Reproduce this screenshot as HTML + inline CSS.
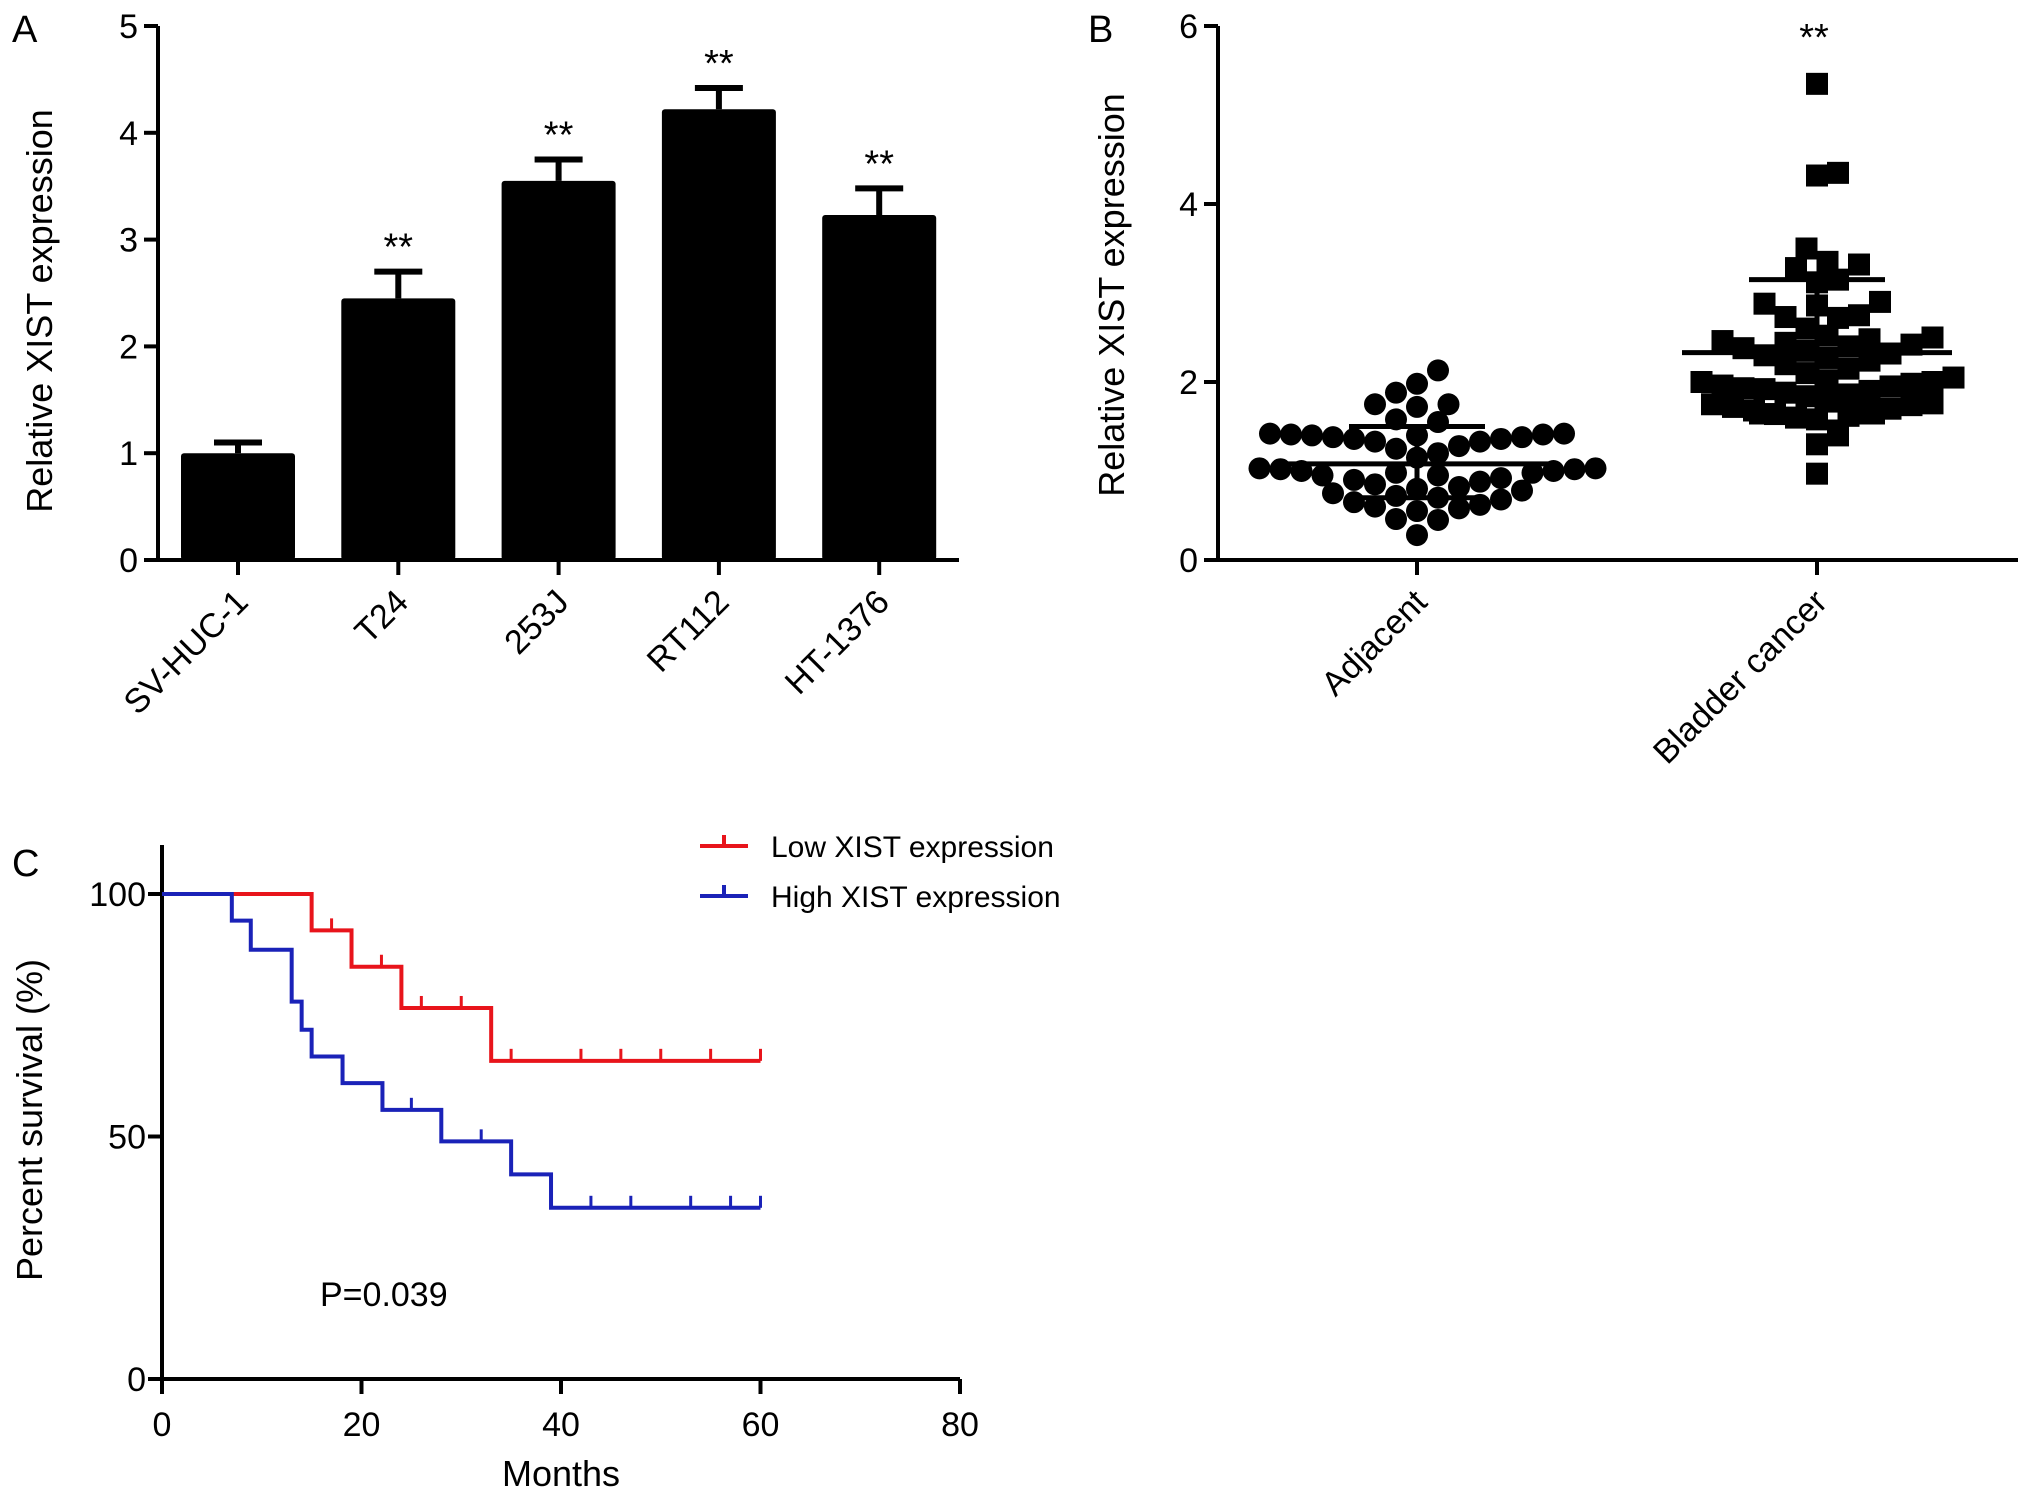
<!DOCTYPE html>
<html><head><meta charset="utf-8"><style>
html,body{margin:0;padding:0;background:#fff}
svg{display:block;font-family:"Liberation Sans",Arial,sans-serif}
</style></head><body>
<svg id="fig" width="2031" height="1498" viewBox="0 0 2031 1498" xmlns="http://www.w3.org/2000/svg"></svg>
<script>
// ---- Panel A data ----
const catsA = ["SV-HUC-1","T24","253J","RT112","HT-1376"];
const meansA = [1.0, 2.45, 3.55, 4.22, 3.23];
const errA = [0.1, 0.25, 0.2, 0.2, 0.25];
const starsA = ["","**","**","**","**"];
const ticksA = [0,1,2,3,4,5];
// ---- Panel B data ----
const groupsB = ["Adjacent","Bladder cancer"];
const adjVals = [2.13,1.98,1.88,1.75,1.75,1.72,1.58,1.55,
  1.42,1.42,1.41,1.41,1.4,1.4,1.38,1.38,1.36,1.36,1.33,1.33,1.28,1.25,1.2,1.15,
  1.03,1.03,1.02,1.02,1.0,1.0,0.98,0.98,0.95,0.95,0.92,0.9,0.88,0.85,0.82,0.8,0.78,0.75,0.72,0.7,0.68,0.65,0.62,0.6,
  0.58,0.55,0.46,0.45,0.28];
const adjStats = [1.08, 0.7, 1.5];
const bcVals = [5.35,4.35,4.32,3.5,3.35,3.32,3.28,3.15,3.12,2.9,2.88,2.86,2.75,2.73,2.72,2.6,
  2.52,2.5,2.48,2.46,2.44,2.42,2.4,2.38,2.35,2.32,2.3,2.27,2.24,2.2,2.15,
  2.1,2.05,2.02,2.0,2.0,1.98,1.96,1.95,1.93,1.92,1.9,1.88,1.86,1.84,
  1.78,1.76,1.75,1.74,1.72,1.7,1.68,1.66,1.64,1.62,1.6,1.58,
  1.4,1.3,0.97];
const bcStats = [2.33, 1.55, 3.15];
const ticksB = [0,2,4,6];
// ---- Panel C data ----
const lowSteps = [[0,100],[15,92.5],[19,85],[24,76.5],[33,65.6],[60,65.6]];
const lowCens = [17,22,26,30,35,42,46,50,55,60];
const highSteps = [[0,100],[7,94.5],[8.9,88.5],[13,77.8],[14,72],[15,66.5],[18.1,61],[22.1,55.5],[28,49],[35,42.2],[39,35.3],[60,35.3]];
const highCens = [25,32,43,47,53,57,60];
const ticksCx = [0,20,40,60,80];
const ticksCy = [0,50,100];

const NS="http://www.w3.org/2000/svg";
const svg=document.getElementById('fig');
function mk(tag,attrs,parent,text){const e=document.createElementNS(NS,tag);for(const k in attrs)e.setAttribute(k,attrs[k]);if(text!==undefined)e.textContent=text;(parent||svg).appendChild(e);return e;}
const FT=34, FA=36;

// ===== Panel A =====
const gA=mk('g',{});


const ax0=158, ay0=560, ay5=26, axEnd=959;
const yA=v=>ay0-(ay0-ay5)*v/5;
const xA=i=>238+i*160.3;
let t=mk('text',{x:12,y:42,'font-size':38},gA,'A');


catsA.forEach((c,i)=>{
  const cx=xA(i), w=114;
  const b=mk('rect',{x:cx-w/2,y:yA(meansA[i]),width:w,height:yA(0)-yA(meansA[i]),fill:'#000',rx:3},gA);
  
  
  const top=yA(meansA[i]+errA[i]);
  const eb=mk('path',{d:`M${cx} ${yA(meansA[i])}V${top}M${cx-24} ${top}H${cx+24}`,stroke:'#000','stroke-width':6,fill:'none'},gA);
  
  
  if(starsA[i]){const s=mk('text',{x:cx,y:top-12,'font-size':38,'text-anchor':'middle'},gA,starsA[i]);
    
    }
  mk('line',{x1:cx,y1:ay0,x2:cx,y2:ay0+15,stroke:'#000','stroke-width':4},gA);
  const l=mk('text',{x:0,y:0,'font-size':FT,'text-anchor':'end',transform:`translate(${cx+12},${ay0+44}) rotate(-45)`},gA,c);
  
  
});
mk('path',{d:`M${ax0} ${ay5}V${ay0}H${axEnd}`,stroke:'#000','stroke-width':4,fill:'none'},gA);
ticksA.forEach(v=>{mk('line',{x1:ax0-14,y1:yA(v),x2:ax0,y2:yA(v),stroke:'#000','stroke-width':4},gA);
  const tl=mk('text',{x:ax0-20,y:yA(v)+12,'font-size':FT,'text-anchor':'end'},gA,v);
  
  });
t=mk('text',{x:0,y:0,'font-size':FA,'text-anchor':'middle',transform:'translate(52,311) rotate(-90)'},gA,'Relative XIST expression');



// ===== Panel B =====
const gB=mk('g',{});


const bx0=1218, by0=560, by6=26, bxEnd=2018;
const yB=v=>by0-(by0-by6)*v/6;
const xB=i=>[1417,1817][i];
t=mk('text',{x:1088,y:42,'font-size':38},gB,'B');


function swarm(vals){ // beeswarm: ascending order, nearest free slot
  const order=vals.map((v,j)=>j).sort((a,b)=>vals[a]-vals[b]);
  const placed=[],out=[];const d=21;
  order.forEach(j=>{const y=yB(vals[j]);let off=0;
    for(let k=0;k<60;k++){const cand=k===0?0:(k%2?1:-1)*Math.ceil(k/2)*d/2;
      if(placed.every(p=>Math.hypot(p[0]-cand,p[1]-y)>=d-0.5)){off=cand;break;}}
    placed.push([off,y]);out[j]=off;});
  return out;}
[adjVals,bcVals].forEach((vals,gi)=>{
  const offs=swarm(vals);const cx=xB(gi);
  vals.forEach((v,j)=>{let m;
    if(gi===0)m=mk('circle',{cx:cx+offs[j],cy:yB(v),r:11,fill:'#000'},gB);
    else m=mk('rect',{x:cx+offs[j]-11,y:yB(v)-11,width:22,height:22,fill:'#000'},gB);
    
    });
  const st=gi===0?adjStats:bcStats;
  const ml=mk('path',{d:`M${cx-135} ${yB(st[0])}H${cx+135}M${cx} ${yB(st[1])}V${yB(st[2])}M${cx-68} ${yB(st[1])}H${cx+68}M${cx-68} ${yB(st[2])}H${cx+68}`,stroke:'#000','stroke-width':5,fill:'none'},gB);
  
  
  mk('line',{x1:cx,y1:by0,x2:cx,y2:by0+15,stroke:'#000','stroke-width':4},gB);
  const l=mk('text',{x:0,y:0,'font-size':FT,'text-anchor':'end',transform:`translate(${cx+12},${by0+44}) rotate(-45)`},gB,groupsB[gi]);
  
  
});
t=mk('text',{x:1814,y:50,'font-size':38,'text-anchor':'middle'},gB,'**');


mk('path',{d:`M${bx0} ${by6}V${by0}H${bxEnd}`,stroke:'#000','stroke-width':4,fill:'none'},gB);
ticksB.forEach(v=>{mk('line',{x1:bx0-14,y1:yB(v),x2:bx0,y2:yB(v),stroke:'#000','stroke-width':4},gB);
  const tl=mk('text',{x:bx0-20,y:yB(v)+12,'font-size':FT,'text-anchor':'end'},gB,v);
  
  });
t=mk('text',{x:0,y:0,'font-size':FA,'text-anchor':'middle',transform:'translate(1124,295) rotate(-90)'},gB,'Relative XIST expression');



// ===== Panel C =====
const gC=mk('g',{});


const cx0=162, cy0=1379, cy100=894;
const xC=m=>cx0+m*(960-cx0)/80;
const yC=p=>cy0-(cy0-cy100)*p/100;
t=mk('text',{x:12,y:876,'font-size':38},gC,'C');


mk('path',{d:`M${cx0} 845V${cy0}H960`,stroke:'#000','stroke-width':4,fill:'none'},gC);
ticksCx.forEach(v=>{mk('line',{x1:xC(v),y1:cy0,x2:xC(v),y2:cy0+15,stroke:'#000','stroke-width':4},gC);
  const tl=mk('text',{x:xC(v),y:cy0+57,'font-size':FT,'text-anchor':'middle'},gC,v);
  
  });
ticksCy.forEach(v=>{mk('line',{x1:cx0-14,y1:yC(v),x2:cx0,y2:yC(v),stroke:'#000','stroke-width':4},gC);
  const tl=mk('text',{x:cx0-16,y:yC(v)+12,'font-size':FT,'text-anchor':'end'},gC,v);
  
  });
function stepPath(steps){let d=`M${xC(steps[0][0])} ${yC(steps[0][1])}`;
  for(let i=1;i<steps.length;i++){d+=`H${xC(steps[i][0])}V${yC(steps[i][1])}`;}return d;}
function survAt(steps,m){let s=steps[0][1];steps.forEach(p=>{if(p[0]<=m)s=p[1];});return s;}
[[lowSteps,lowCens,'#e8141b','low'],[highSteps,highCens,'#1a22b8','high']].forEach(([st,cs,col,nm])=>{
  const p=mk('path',{d:stepPath(st),stroke:col,'stroke-width':4,fill:'none'},gC);
  
  
  cs.forEach(m=>{const y=yC(survAt(st,m));const c=mk('line',{x1:xC(m),y1:y,x2:xC(m),y2:y-12,stroke:col,'stroke-width':3},gC);
    
    });
});
// legend
[['Low XIST expression','#e8141b',846],['High XIST expression','#1a22b8',896]].forEach(([lab,col,y])=>{
  const g=mk('g',{},gC);
  
  
  mk('path',{d:`M700 ${y}H748M724 ${y}V${y-11}`,stroke:col,'stroke-width':4,fill:'none'},g);
  mk('text',{x:771,y:y+11,'font-size':30},g,lab);
});
t=mk('text',{x:320,y:1306,'font-size':34},gC,'P=0.039');


t=mk('text',{x:561,y:1486,'font-size':FA,'text-anchor':'middle'},gC,'Months');


t=mk('text',{x:0,y:0,'font-size':FA,'text-anchor':'middle',transform:'translate(42,1120) rotate(-90)'},gC,'Percent survival (%)');


</script>
</body></html>
